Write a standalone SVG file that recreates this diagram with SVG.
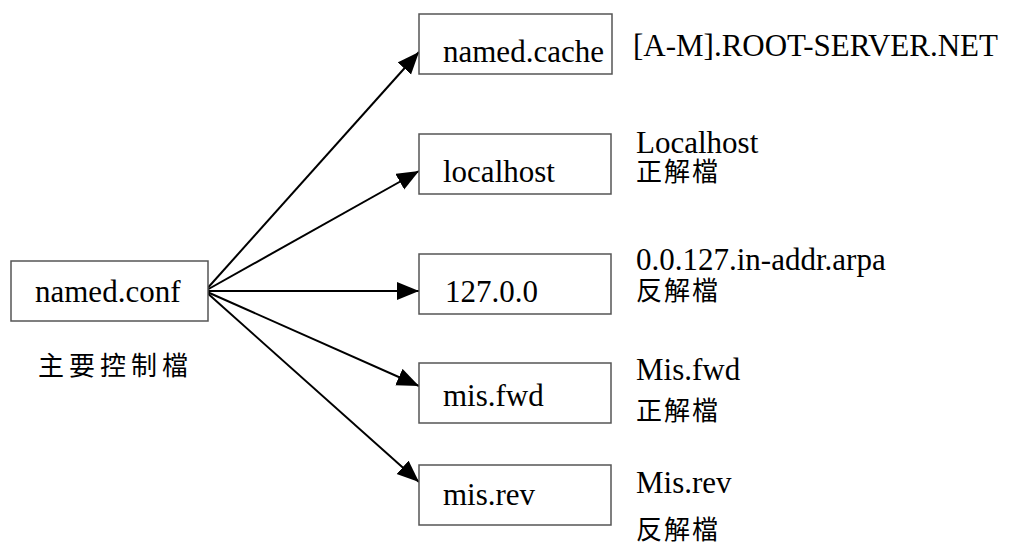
<svg xmlns="http://www.w3.org/2000/svg" width="1016" height="545" viewBox="0 0 1016 545">
  <style>
    .box { fill: #ffffff; stroke: #555555; stroke-width: 1.5; }
    .lbl { font-family: "Liberation Serif", "Times New Roman", serif; font-size: 31px; fill: #000000; }
    .cjk { font-family: "Noto Sans CJK TC", "Noto Sans CJK SC", sans-serif; font-size: 26px; font-weight: 400; fill: #000000; letter-spacing: 2px; }
    .edge { stroke: #000000; stroke-width: 2; fill: none; marker-end: url(#arrow); }
  </style>
  <defs>
    <marker id="arrow" markerUnits="userSpaceOnUse" markerWidth="24" markerHeight="20" refX="22" refY="9" orient="auto">
      <path d="M0,0 L22,9 L0,18 Z" fill="#000000"/>
    </marker>
  </defs>
  <rect width="1016" height="545" fill="#ffffff"/>

  <g id="connectors">
    <line class="edge" x1="205" y1="291" x2="419" y2="52"/>
    <line class="edge" x1="205" y1="291" x2="419" y2="171"/>
    <line class="edge" x1="205" y1="291" x2="419" y2="291"/>
    <line class="edge" x1="205" y1="291" x2="419" y2="386"/>
    <line class="edge" x1="205" y1="291" x2="419" y2="482"/>
  </g>

  <g id="named-conf">
    <rect class="box" x="11" y="261" width="197" height="60"/>
    <text class="lbl" x="35" y="302">named.conf</text>
    <text class="cjk" x="38" y="375" style="font-size:26px;letter-spacing:5px">主要控制檔</text>
  </g>

  <g id="named-cache">
    <rect class="box" x="419" y="14" width="193" height="60"/>
    <text class="lbl" x="443" y="62">named.cache</text>
    <text class="lbl" x="633" y="56">[A-M].ROOT-SERVER.NET</text>
  </g>

  <g id="localhost">
    <rect class="box" x="419" y="134" width="192" height="60"/>
    <text class="lbl" x="443" y="182">localhost</text>
    <text class="lbl" x="636" y="153">Localhost</text>
    <text class="cjk" x="636" y="181">正解檔</text>
  </g>

  <g id="reverse-local">
    <rect class="box" x="419" y="254" width="192" height="60"/>
    <text class="lbl" x="445" y="302">127.0.0</text>
    <text class="lbl" x="636" y="270">0.0.127.in-addr.arpa</text>
    <text class="cjk" x="636" y="300">反解檔</text>
  </g>

  <g id="mis-fwd">
    <rect class="box" x="419" y="363" width="192" height="60"/>
    <text class="lbl" x="443" y="406">mis.fwd</text>
    <text class="lbl" x="636" y="380">Mis.fwd</text>
    <text class="cjk" x="636" y="420">正解檔</text>
  </g>

  <g id="mis-rev">
    <rect class="box" x="419" y="465" width="192" height="60"/>
    <text class="lbl" x="443" y="505">mis.rev</text>
    <text class="lbl" x="636" y="493">Mis.rev</text>
    <text class="cjk" x="636" y="539">反解檔</text>
  </g>
</svg>
